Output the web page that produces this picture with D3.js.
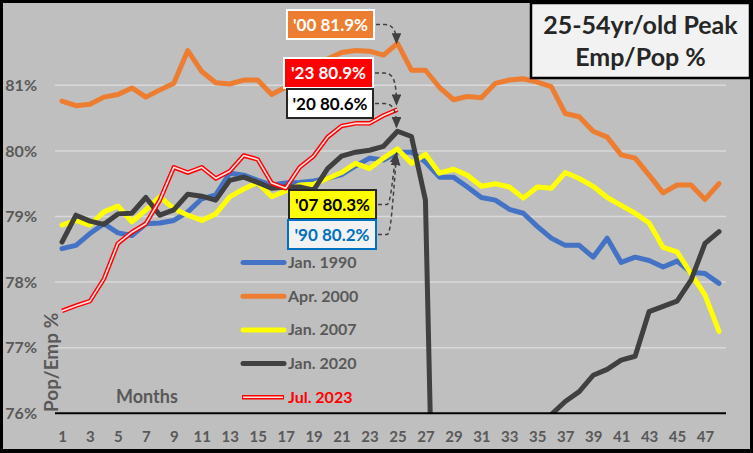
<!DOCTYPE html>
<html>
<head>
<meta charset="utf-8">
<title>25-54yr/old Peak Emp/Pop %</title>
<script src="https://d3js.org/d3.v7.min.js"></script>
<style>
  body { margin: 0; background: #000; }
  text { font-family: Lato, "Open Sans", sans-serif; font-weight: bold; }
</style>
</head>
<body>
<svg width="753" height="453"></svg>
<script>
// ---- data ----
const months = [1,2,3,4,5,6,7,8,9,10,11,12,13,14,15,16,17,18,19,20,21,22,23,24,
                25,26,27,28,29,30,31,32,33,34,35,36,37,38,39,40,41,42,43,44,45,46,47,48];

const jan1990 = [78.51,78.56,78.74,78.89,78.75,78.71,78.89,78.90,78.94,79.07,
                 79.27,79.33,79.66,79.63,79.55,79.48,79.51,79.52,79.54,79.58,
                 79.64,79.77,79.89,79.86,79.98,79.98,79.83,79.60,79.60,79.45,
                 79.29,79.25,79.11,79.05,78.85,78.67,78.56,78.56,78.38,78.67,
                 78.30,78.38,78.33,78.23,78.32,78.15,78.13,77.98];

const apr2000 = [80.76,80.69,80.71,80.82,80.86,80.96,80.82,80.93,81.03,81.53,
                 81.21,81.04,81.02,81.08,81.08,80.86,80.97,81.10,81.25,81.40,
                 81.50,81.53,81.52,81.46,81.64,81.23,81.23,80.97,80.78,80.83,
                 80.81,81.03,81.08,81.10,81.05,80.98,80.57,80.52,80.30,80.21,
                 79.94,79.89,79.63,79.36,79.48,79.48,79.26,79.50];

const jan2007 = [78.87,78.94,78.87,79.07,79.16,78.92,79.10,79.30,79.12,79.02,
                 78.94,79.04,79.30,79.42,79.52,79.30,79.39,79.48,79.49,79.58,
                 79.67,79.81,79.73,79.89,80.03,79.81,79.95,79.66,79.72,79.63,
                 79.46,79.50,79.45,79.28,79.45,79.43,79.67,79.58,79.46,79.29,
                 79.17,79.05,78.90,78.53,78.46,78.13,77.80,77.25];

const jan2020 = [78.61,79.02,78.93,78.88,79.04,79.05,79.29,79.02,79.10,79.34,
                 79.31,79.25,79.55,79.60,79.52,79.43,79.45,79.45,79.40,79.73,
                 79.92,79.98,80.01,80.07,80.30,80.22,79.25,69.70,71.40,73.50,
                 73.80,75.20,75.30,75.60,75.80,75.98,76.18,76.33,76.58,76.67,
                 76.81,76.87,77.55,77.63,77.71,78.03,78.59,78.77];

const jul2023 = [77.56,77.64,77.71,78.05,78.59,78.76,78.89,79.25,79.75,79.67,
                 79.75,79.58,79.69,79.93,79.87,79.51,79.43,79.75,79.92,80.21,
                 80.38,80.42,80.42,80.54,80.63];

const seriesNames = ["Jan. 1990", "Apr. 2000", "Jan. 2007", "Jan. 2020", "Jul. 2023"];
const yTicks = [76, 77, 78, 79, 80, 81];
const xTicks = months.filter(m => m % 2 === 1);

const peakLabels = ["'00 81.9%", "'23 80.9%", "'20 80.6%", "'07 80.3%", "'90 80.2%"];

// ---- setup ----
const svg = d3.select("svg");
const W = 753, H = 453;

svg.append("rect").attr("width", W).attr("height", H).attr("fill", "#000");
svg.append("rect").attr("x", 3).attr("y", 3).attr("width", 747).attr("height", 446)
  .attr("fill", "#bfbfbf");

const x = d3.scalePoint().domain(months).range([55, 726]).padding(0.5);
const y = d3.scaleLinear().domain([76, 82]).range([413.3, 19.7]);

// gridlines
svg.append("g").selectAll("line")
  .data(yTicks.filter(d => d > 76))
  .join("line")
    .attr("x1", 55).attr("x2", 726)
    .attr("y1", d => y(d)).attr("y2", d => y(d))
    .attr("stroke", "#d9d9d9").attr("stroke-width", 1.5);

// axes
const yAxis = svg.append("g")
  .attr("transform", "translate(55,0)")
  .call(d3.axisLeft(y).tickValues(yTicks).tickSize(0).tickPadding(18).tickFormat(d => d + "%"));
yAxis.select(".domain").remove();
yAxis.selectAll("text").attr("fill", "#595959").style("font-size", "16px").style("font-family", "Lato");

const xAxis = svg.append("g")
  .attr("transform", "translate(0,413.3)")
  .call(d3.axisBottom(x).tickValues(xTicks).tickSize(0).tickPadding(18));
xAxis.select(".domain").remove();
xAxis.selectAll("text").attr("fill", "#595959").style("font-size", "15px").style("font-family", "Lato");

// clip for the lines
svg.append("clipPath").attr("id", "plot")
  .append("rect").attr("x", 40).attr("y", 0).attr("width", 700).attr("height", 413.3);

const line = d3.line()
  .x((d, i) => x(months[i]))
  .y(d => y(d));

const plot = svg.append("g").attr("clip-path", "url(#plot)");

const styles = [
  { data: jan1990, color: "#4472c4" },
  { data: apr2000, color: "#ed7d31" },
  { data: jan2007, color: "#ffff00" },
  { data: jan2020, color: "#404040" }
];

styles.forEach(s => {
  plot.append("path")
    .datum(s.data)
    .attr("d", line)
    .attr("fill", "none")
    .attr("stroke", s.color)
    .attr("stroke-width", 5)
    .attr("stroke-linejoin", "round")
    .attr("stroke-linecap", "round");
});

// double red line for 2023
plot.append("path").datum(jul2023).attr("d", line)
  .attr("fill", "none").attr("stroke", "#ff0000").attr("stroke-width", 4.5)
  .attr("stroke-linejoin", "round");
plot.append("path").datum(jul2023).attr("d", line)
  .attr("fill", "none").attr("stroke", "#fbe3e3").attr("stroke-width", 1.6)
  .attr("stroke-linejoin", "round");

// x axis line
svg.append("line")
  .attr("x1", 55).attr("x2", 726).attr("y1", y(76)).attr("y2", y(76))
  .attr("stroke", "#000").attr("stroke-width", 2);

// axis titles
svg.append("text")
  .attr("x", 116).attr("y", 403)
  .attr("fill", "#595959").style("font-size", "18px")
  .text("Months");

svg.append("text")
  .attr("transform", "translate(58,412) rotate(-90)")
  .attr("fill", "#595959").style("font-size", "19px")
  .text("Pop/Emp %");

// legend
const legendColors = ["#4472c4", "#ed7d31", "#ffff00", "#404040", "#ff0000"];
const legend = svg.append("g");
seriesNames.forEach((name, i) => {
  const ly = 262.5 + i * 33.7;
  if (i < 4) {
    legend.append("line")
      .attr("x1", 243).attr("x2", 284).attr("y1", ly).attr("y2", ly)
      .attr("stroke", legendColors[i]).attr("stroke-width", 5)
      .attr("stroke-linecap", "round");
  } else {
    legend.append("line")
      .attr("x1", 242).attr("x2", 284).attr("y1", ly).attr("y2", ly)
      .attr("stroke", "#ff0000").attr("stroke-width", 4.5);
    legend.append("line")
      .attr("x1", 243).attr("x2", 283).attr("y1", ly).attr("y2", ly)
      .attr("stroke", "#fbe3e3").attr("stroke-width", 1.6);
  }
  legend.append("text")
    .attr("x", 288).attr("y", ly + 5.5)
    .attr("fill", i === 4 ? "#ff0000" : "#595959")
    .style("font-size", "16px")
    .text(name);
});

// peak call-outs
svg.append("defs").append("marker")
  .attr("id", "arrow").attr("viewBox", "0 0 10 10")
  .attr("refX", 9).attr("refY", 5)
  .attr("markerWidth", 7.5).attr("markerHeight", 6.5)
  .attr("markerUnits", "strokeWidth")
  .attr("orient", "auto")
  .attr("preserveAspectRatio", "none")
  .append("path").attr("d", "M0,0 L10,5 L0,10 Z").attr("fill", "#404040");

const peakMonth = 25;
const callouts = [
  { text: peakLabels[0], box: [287, 10, 87, 29], fill: "#ed7d31", stroke: "#ffffff", color: "#ffffff", target: apr2000, dy: 0 },
  { text: peakLabels[1], box: [284, 58, 89, 30], fill: "#ff0000", stroke: "#ffffff", color: "#ffffff", target: jul2023, dy: -5 },
  { text: peakLabels[2], box: [287, 89, 86, 29], fill: "#ffffff", stroke: "#262626", color: "#000000", target: jan2020, dy: -4 },
  { text: peakLabels[3], box: [289, 190, 87, 29], fill: "#ffff00", stroke: "#262626", color: "#000000", target: jan2007, dy: 4 },
  { text: peakLabels[4], box: [288, 220, 88, 29], fill: "#f2f2f2", stroke: "#0070c0", color: "#0070c0", target: jan1990, dy: 3 }
];

callouts.forEach(c => {
  const [bx, by, bw, bh] = c.box;
  const sx = bx + bw + 2, sy = by + bh / 2;
  const tx = x(peakMonth) - 1, ty = y(c.target[peakMonth - 1]) + c.dy;
  const midx = sx + 9;
  const d = ty > sy
    ? `M${sx},${sy} L${midx},${sy} C${tx - 4},${sy} ${tx},${sy + 6} ${tx},${ty}`
    : `M${sx},${sy} L${midx},${sy} C${midx + 4},${sy} ${tx - 4},${sy - 30} ${tx},${ty}`;
  svg.append("path")
    .attr("d", d)
    .attr("fill", "none")
    .attr("stroke", "#404040")
    .attr("stroke-width", 1.5)
    .attr("stroke-dasharray", "4,3")
    .attr("marker-end", "url(#arrow)");

  svg.append("rect")
    .attr("x", bx).attr("y", by).attr("width", bw).attr("height", bh)
    .attr("fill", c.fill).attr("stroke", c.stroke).attr("stroke-width", 2);
  svg.append("text")
    .attr("x", bx + bw / 2).attr("y", by + bh / 2 + 6)
    .attr("text-anchor", "middle")
    .attr("fill", c.color)
    .style("font-size", "17px")
    .text(c.text);
});

// title box
svg.append("rect")
  .attr("x", 531).attr("y", 3).attr("width", 219).attr("height", 75)
  .attr("fill", "#f2f2f2").attr("stroke", "#000").attr("stroke-width", 2.5);
svg.append("text")
  .attr("x", 640.5).attr("y", 34)
  .attr("text-anchor", "middle").attr("fill", "#262626")
  .style("font-size", "25px")
  .text("25-54yr/old Peak");
svg.append("text")
  .attr("x", 640.5).attr("y", 66)
  .attr("text-anchor", "middle").attr("fill", "#262626")
  .style("font-size", "25px")
  .text("Emp/Pop %");
</script>
</body>
</html>
